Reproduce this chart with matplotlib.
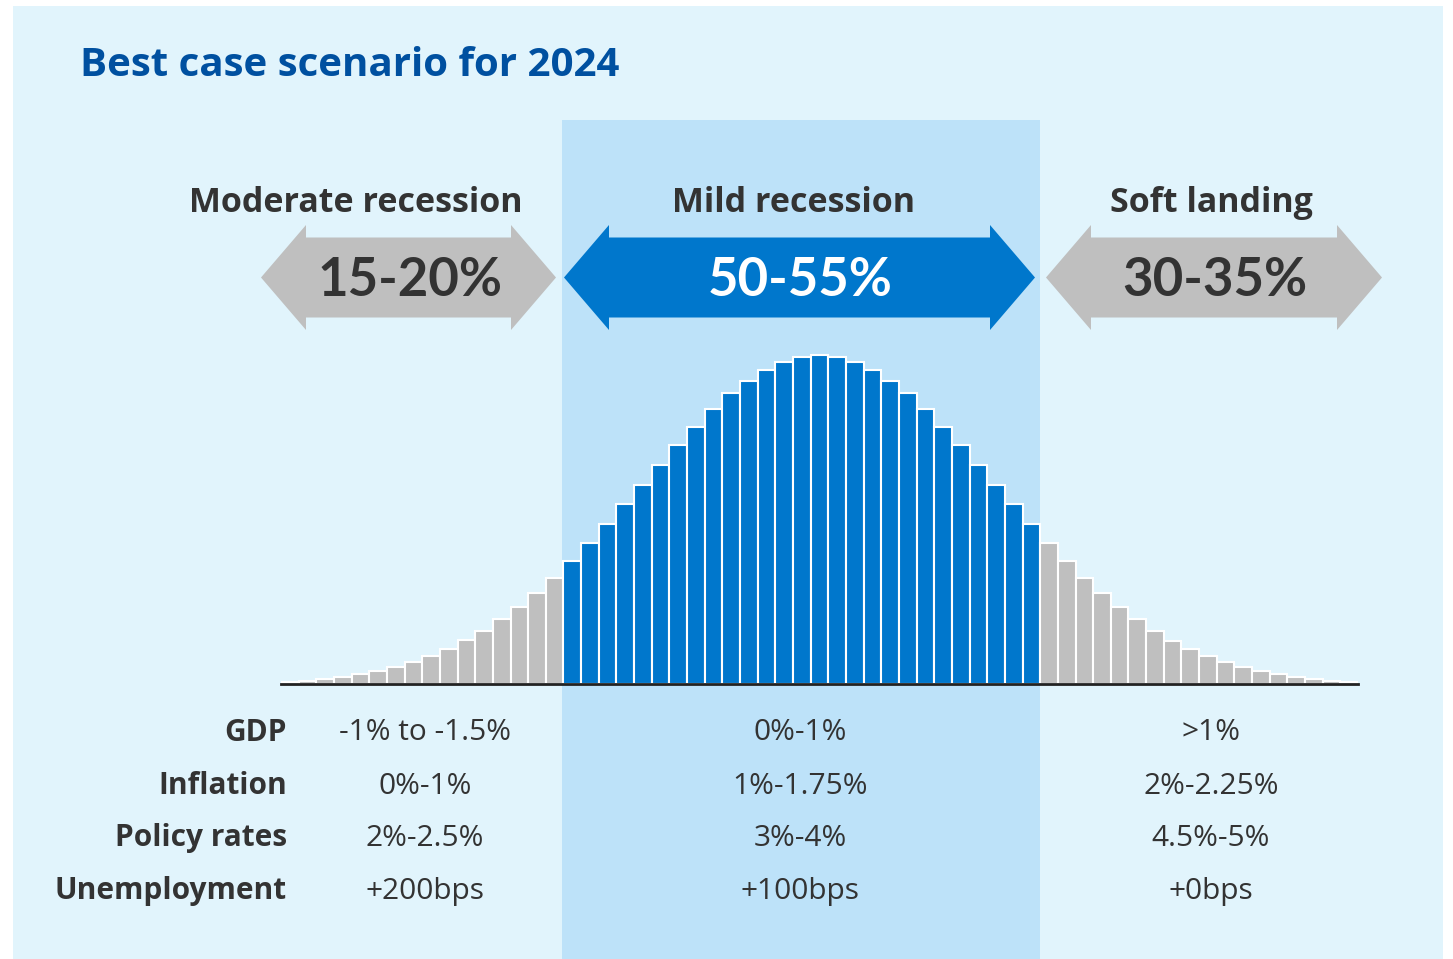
import matplotlib.pyplot as plt
from matplotlib.patches import Rectangle, Polygon

plt.rcParams['font.family'] = ['Open Sans', 'DejaVu Sans']

# bar heights (relative units), left to right
heights = [2, 3.5, 5.5, 7.5, 10.5, 13.5, 17.5, 22.5, 28.5, 35.5, 44, 53.5, 65, 77, 91, 106,
           123, 141, 160, 180, 199, 219, 239, 257, 275, 291, 303, 314, 322, 327,
           329,
           327, 322, 314, 303, 291, 275, 257, 239, 219, 199, 180, 160,
           141, 123, 106, 91, 77, 65, 53, 43, 35, 28, 22, 17, 13, 10, 7, 5, 3.3, 2]
group_sizes = [16, 27, 18]

scenarios = ["Moderate recession", "Mild recession", "Soft landing"]
probabilities = ["15-20%", "50-55%", "30-35%"]

row_labels = ["GDP", "Inflation", "Policy rates", "Unemployment"]
moderate_vals = ["-1% to -1.5%", "0%-1%", "2%-2.5%", "+200bps"]
mild_vals = ["0%-1%", "1%-1.75%", "3%-4%", "+100bps"]
soft_vals = [">1%", "2%-2.25%", "4.5%-5%", "+0bps"]

BLUE = "#0077CC"
GRAY = "#BFBFBF"
PANEL = "#E1F4FC"
HILITE = "#BDE2F9"
DARK = "#333333"

W, H = 1453, 959
fig = plt.figure(figsize=(W / 100, H / 100), dpi=100)

# background layer in pixel coordinates
bg = fig.add_axes([0, 0, 1, 1], zorder=0)
bg.set_xlim(0, W)
bg.set_ylim(H, 0)
bg.axis("off")
bg.add_patch(Rectangle((13, 6), 1430, H, color=PANEL, lw=0))
bg.add_patch(Rectangle((562, 120), 478, H, color=HILITE, lw=0))

bg.text(80, 66, "Best case scenario for 2024", fontsize=29, fontweight="bold",
        color="#0050A0", ha="left", va="center")


def double_arrow(x0, x1, color):
    top, bot, btop, bbot, cy, head = 225, 330, 237.5, 317.5, 277.5, 45
    pts = [(x0, cy), (x0 + head, top), (x0 + head, btop), (x1 - head, btop),
           (x1 - head, top), (x1, cy), (x1 - head, bot), (x1 - head, bbot),
           (x0 + head, bbot), (x0 + head, bot)]
    bg.add_patch(Polygon(pts, closed=True, color=color, lw=0))


arrow_spans = [(261, 556), (564, 1035), (1046, 1382)]
arrow_colors = [GRAY, BLUE, GRAY]
label_x = [356, 794, 1211]
pct_colors = [DARK, "white", DARK]
for i in range(3):
    x0, x1 = arrow_spans[i]
    double_arrow(x0, x1, arrow_colors[i])
    bg.text(label_x[i], 203, scenarios[i], fontsize=24.5, fontweight="bold",
            color=DARK, ha="center", va="center")
    bg.text((x0 + x1) / 2 + 1, 281, probabilities[i], fontsize=38, fontweight="bold",
            family=["Lato", "DejaVu Sans"], color=pct_colors[i], ha="center", va="center")

# table under the distribution
col_x = [425, 800, 1211]
row_y = [733, 786, 838, 891]
for j, lab in enumerate(row_labels):
    bg.text(287, row_y[j], lab, fontsize=21.5, fontweight="bold", color=DARK,
            ha="right", va="center")
    for k, vals in enumerate([moderate_vals, mild_vals, soft_vals]):
        bg.text(col_x[k], row_y[j], vals[j], fontsize=21.5, color=DARK,
                ha="center", va="center")

# distribution bars
ax = fig.add_axes([281 / W, (H - 684) / H, 1077 / W, 340 / H], zorder=1)
ax.patch.set_alpha(0)
colors = [GRAY] * group_sizes[0] + [BLUE] * group_sizes[1] + [GRAY] * group_sizes[2]
ax.bar(range(len(heights)), heights, width=1.0, color=colors,
       edgecolor="white", linewidth=1.5)
ax.set_xlim(-0.5, len(heights) - 0.5)
ax.set_ylim(0, 340)
for s in ["top", "left", "right"]:
    ax.spines[s].set_visible(False)
ax.spines["bottom"].set_color("#222222")
ax.spines["bottom"].set_linewidth(2)
ax.set_xticks([])
ax.set_yticks([])

fig.savefig("out.png", dpi=100)
